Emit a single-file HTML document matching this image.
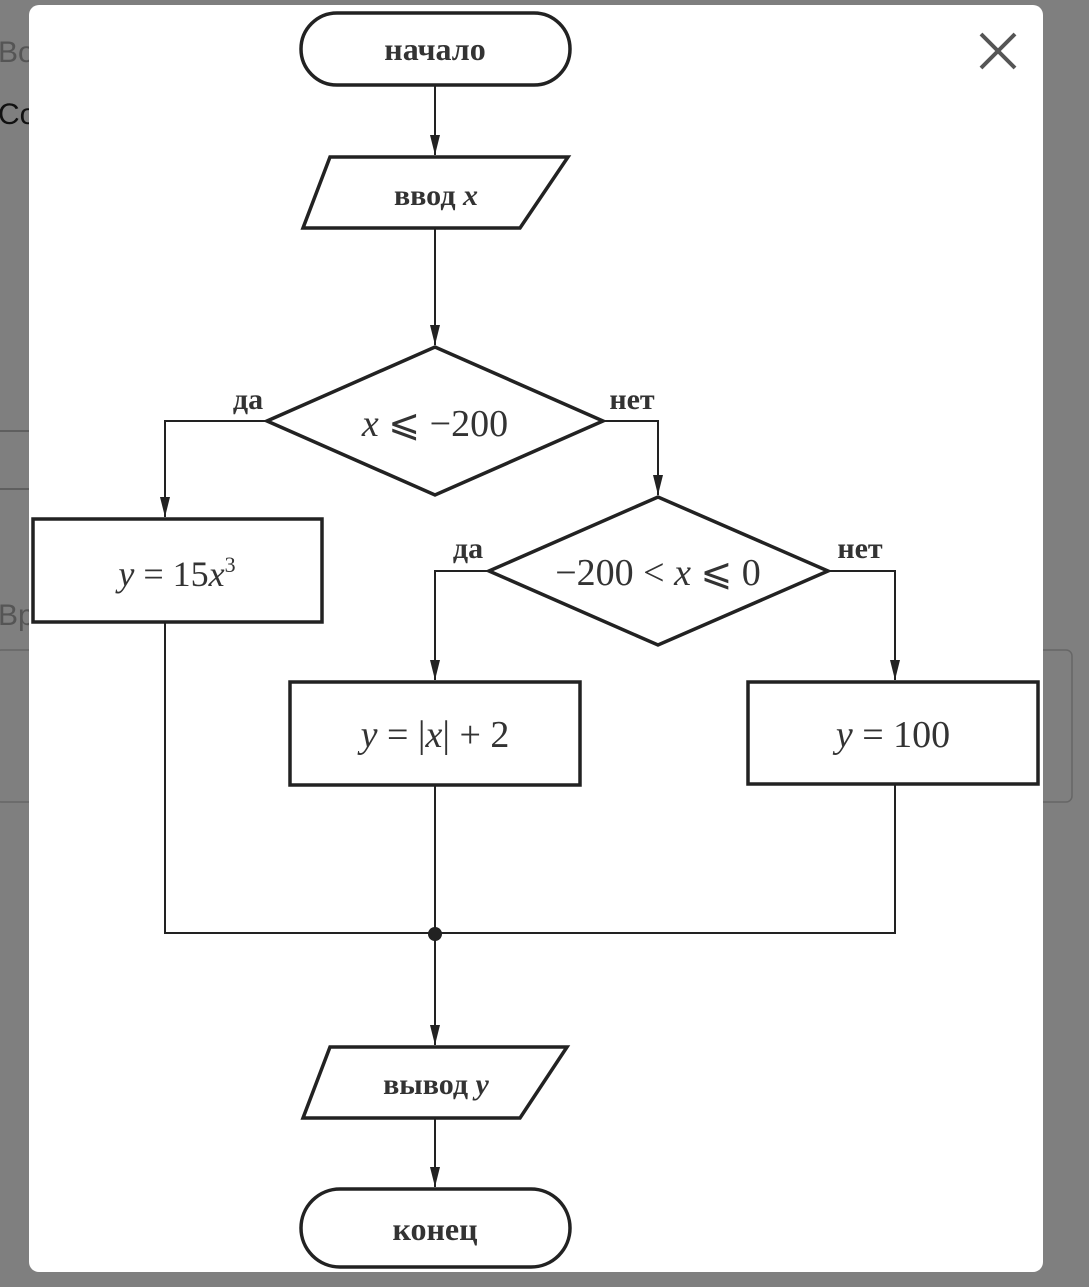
<!DOCTYPE html>
<html><head><meta charset="utf-8"><style>
html,body{margin:0;padding:0;background:#7f7f7f;}
body{width:1089px;height:1287px;overflow:hidden;position:relative;}
</style></head><body>
<svg width="1089" height="1287" viewBox="0 0 1089 1287" xmlns="http://www.w3.org/2000/svg" style="position:absolute;left:0;top:0">
<defs>
<marker id="a" markerWidth="20" markerHeight="10" refX="20" refY="5" orient="auto" markerUnits="userSpaceOnUse" viewBox="0 0 20 10">
<path d="M0,0 L20,5 L0,10 Z" fill="#222"/>
</marker>
</defs>
<rect width="1089" height="1287" fill="#7f7f7f"/>
<text x="-2" y="62" font-family="Liberation Sans, sans-serif" font-size="30" fill="#555">Bo</text>
<text x="-2" y="124" font-family="Liberation Sans, sans-serif" font-size="30" fill="#111">Co</text>
<rect x="-5" y="431" width="40" height="58" fill="none" stroke="#555" stroke-width="1.5" rx="3"/>
<text x="-2" y="625" font-family="Liberation Sans, sans-serif" font-size="30" fill="#555">Bp</text>
<rect x="-5" y="650" width="40" height="152" fill="none" stroke="#666" stroke-width="1.5" rx="6"/>
<rect x="1030" y="650" width="42" height="152" fill="none" stroke="#666" stroke-width="1.5" rx="6"/>
<rect x="29" y="5" width="1014" height="1267" rx="10" fill="#fff"/>
<g stroke="#222" stroke-width="3.5" fill="none">
<rect x="301" y="13" width="269" height="72" rx="36"/>
<polygon points="330,157 568,157 520,228 303,228"/>
<polygon points="267,421 435,347 603,421 435,495"/>
<polygon points="489,571 658,497 828,571 658,645"/>
<rect x="33" y="519" width="289" height="103"/>
<rect x="290" y="682" width="290" height="103"/>
<rect x="748" y="682" width="290" height="102"/>
<polygon points="330,1047 567,1047 520,1118 303,1118"/>
<rect x="301" y="1189" width="269" height="78" rx="39"/>
</g>
<g stroke="#222" stroke-width="2" fill="none">
<line x1="435" y1="85" x2="435" y2="155" marker-end="url(#a)"/>
<line x1="435" y1="228" x2="435" y2="345" marker-end="url(#a)"/>
<polyline points="267,421 165,421 165,517" marker-end="url(#a)"/>
<polyline points="603,421 658,421 658,495" marker-end="url(#a)"/>
<polyline points="489,571 435,571 435,680" marker-end="url(#a)"/>
<polyline points="828,571 895,571 895,680" marker-end="url(#a)"/>
<polyline points="165,622 165,933 895,933 895,784"/>
<line x1="435" y1="785" x2="435" y2="933"/>
<line x1="435" y1="933" x2="435" y2="1045" marker-end="url(#a)"/>
<line x1="435" y1="1118" x2="435" y2="1187" marker-end="url(#a)"/>
</g>
<circle cx="435" cy="934" r="7" fill="#222"/>
<g stroke="#555" stroke-width="4">
<line x1="981" y1="34" x2="1015" y2="68"/><line x1="1015" y1="34" x2="981" y2="68"/>
</g>
<g font-family="Liberation Serif, serif" fill="#333" text-anchor="middle">
<text x="435" y="60" font-size="32" font-weight="bold">начало</text>
<text x="436" y="205" font-size="30" font-weight="bold">ввод <tspan font-style="italic">x</tspan></text>
<text x="435" y="436" font-size="38"><tspan font-style="italic">x</tspan> ⩽ −200</text>
<text x="658" y="585" font-size="38">−200 &lt; <tspan font-style="italic">x</tspan> ⩽ 0</text>
<text x="177" y="586" font-size="36"><tspan font-style="italic">y</tspan> = 15<tspan font-style="italic">x</tspan><tspan font-size="22" dy="-14">3</tspan></text>
<text x="435" y="747" font-size="38"><tspan font-style="italic">y</tspan> = |<tspan font-style="italic">x</tspan>| + 2</text>
<text x="893" y="747" font-size="38"><tspan font-style="italic">y</tspan> = 100</text>
<text x="436" y="1094" font-size="30" font-weight="bold">вывод <tspan font-style="italic">y</tspan></text>
<text x="435" y="1240" font-size="32" font-weight="bold">конец</text>
<text x="248" y="409" font-size="30" font-weight="bold">да</text>
<text x="632" y="409" font-size="30" font-weight="bold">нет</text>
<text x="468" y="558" font-size="30" font-weight="bold">да</text>
<text x="860" y="558" font-size="30" font-weight="bold">нет</text>
</g>
</svg>
</body></html>
